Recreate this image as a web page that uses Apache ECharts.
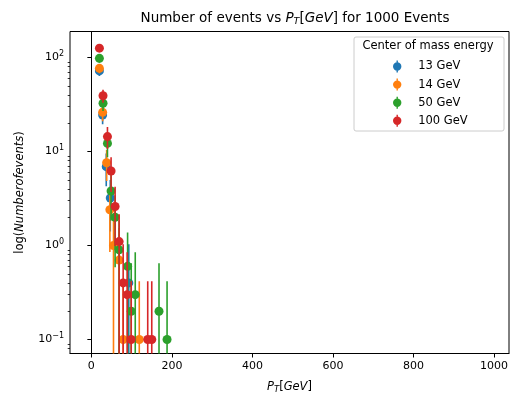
<!DOCTYPE html>
<html>
<head>
<meta charset="utf-8">
<script src="https://cdn.jsdelivr.net/npm/echarts@6/dist/echarts.min.js"></script>
<style>
  html, body { margin: 0; padding: 0; background: #fff; }
  #chart { width: 510px; height: 394px; }
</style>
</head>
<body>
<div id="chart"></div>
<script>
// Binned event counts (per 10 GeV bin) for each centre-of-mass energy
const energyLabels = ['13 GeV', '14 GeV', '50 GeV', '100 GeV'];
const colors = ['#1f77b4', '#ff7f0e', '#2ca02c', '#d62728'];

const pt13 = [20, 28, 37, 47, 93];
const n13  = [72.0, 24.4, 6.9, 3.2, 0.4];

const pt14 = [20, 28, 38, 46, 55, 69, 79, 119];
const n14  = [76.7, 26.1, 7.6, 2.4, 1.0, 0.7, 0.1, 0.1];

const pt50 = [20, 29, 40, 49, 59, 69, 90, 99, 109, 168, 188];
const n50  = [98.0, 32.6, 12.2, 3.8, 2.0, 0.9, 0.6, 0.2, 0.3, 0.2, 0.1];

const pt100 = [20, 29, 40, 49, 59, 69, 79, 89, 99, 140, 150];
const n100  = [125.6, 39.2, 14.4, 6.2, 2.6, 1.1, 0.4, 0.3, 0.1, 0.1, 0.1];

const xTicks = [0, 200, 400, 600, 800, 1000];
const yTicks = [0.1, 1, 10, 100];

const groups = [[pt13, n13], [pt14, n14], [pt50, n50], [pt100, n100]];

const Y_MIN = 0.071, Y_MAX = 189;
const yMinor = [];
[0.01, 0.1, 1, 10, 100].forEach(function (d) {
  for (let k = 2; k <= 9; k++) {
    const v = +(d * k).toPrecision(3);
    if (v > Y_MIN && v < Y_MAX) yMinor.push(v);
  }
});

const FONT = 'DejaVu Sans';
const series = [];
groups.forEach(function (g, i) {
  const pts = g[0].map(function (x, j) {
    const y = g[1][j];
    const err = Math.sqrt(y);       // Poisson-style error
    const lo = y - err > 0 ? y - err : 1e-4;
    return [x, y, lo, y + err];
  });
  series.push({
    name: energyLabels[i],
    type: 'custom',
    z: 2 + i * 2,
    clip: true,
    itemStyle: { color: colors[i] },
    data: pts,
    encode: { x: 0, y: 1 },
    renderItem: function (params, api) {
      const x = api.value(0);
      const p1 = api.coord([x, api.value(2)]);
      const p2 = api.coord([x, api.value(3)]);
      return {
        type: 'line',
        shape: { x1: p1[0], y1: p1[1], x2: p2[0], y2: p2[1] },
        style: { stroke: colors[i], lineWidth: 1.6 }
      };
    }
  });
  series.push({
    name: energyLabels[i],
    type: 'scatter',
    z: 3 + i * 2,
    symbol: 'circle',
    symbolSize: 9,
    itemStyle: { color: colors[i], opacity: 1 },
    data: pts.map(function (p) { return [p[0], p[1]]; })
  });
});

const legendIcon = 'path://M4.3,0 L5.7,0 L5.7,12 L4.3,12 Z M0.8,6 A4.2,4.2 0 1,1 9.2,6 A4.2,4.2 0 1,1 0.8,6 Z';

const chart = echarts.init(document.getElementById('chart'), null, { renderer: 'canvas' });
chart.setOption({
  animation: false,
  backgroundColor: '#fff',
  textStyle: { fontFamily: FONT },
  title: {
    text: '{n|Number of events vs }{i|P}{s|T}{n|[}{i|GeV}{n|] for 1000 Events}',
    left: 290,
    textAlign: 'center',
    top: 4,
    textStyle: {
      fontWeight: 'normal',
      rich: {
        n: { fontFamily: FONT, fontSize: 13.5, fontWeight: 'normal', color: '#000', lineHeight: 18 },
        i: { fontFamily: FONT, fontSize: 13.5, fontWeight: 'normal', fontStyle: 'italic', color: '#000', lineHeight: 18 },
        s: { fontFamily: FONT, fontSize: 9.5, fontWeight: 'normal', fontStyle: 'italic', color: '#000', lineHeight: 10, verticalAlign: 'bottom' }
      }
    }
  },
  grid: {
    left: 70, right: 1, top: 31.5, bottom: 40.5,
    outerBoundsMode: 'none',
    containLabel: false,
    show: true, borderColor: '#000', borderWidth: 1, backgroundColor: 'transparent'
  },
  legend: {
    data: energyLabels.map(function (name, i) {
      return { name: name, itemStyle: { color: colors[i] } };
    }),
    orient: 'vertical',
    left: 388,
    top: 55.5,
    z: 60,
    icon: legendIcon,
    itemWidth: 32,
    itemHeight: 12,
    itemGap: 6.1,
    textStyle: { fontFamily: FONT, fontSize: 11.5, color: '#000', lineHeight: 12 },
    selectedMode: false
  },
  graphic: [
    {
      type: 'rect',
      shape: { x: 354, y: 37, width: 150, height: 94, r: 2 },
      style: { fill: 'rgba(255,255,255,0.8)', stroke: '#cccccc', lineWidth: 1 },
      z: 50
    },
    {
      type: 'text',
      x: 428, y: 46.5,
      style: {
        text: 'Center of mass energy', fontFamily: FONT, fontSize: 11.5,
        fill: '#000', align: 'center', verticalAlign: 'middle'
      },
      z: 51
    }
  ],
  xAxis: {
    type: 'value',
    min: -53, max: 1037,
    name: '{i|P}{s|T}{n|[}{i|GeV}{n|]}',
    nameLocation: 'middle',
    nameGap: 26,
    nameTextStyle: {
      rich: {
        n: { fontFamily: FONT, fontSize: 11.5, color: '#000', lineHeight: 15 },
        i: { fontFamily: FONT, fontSize: 11.5, fontStyle: 'italic', color: '#000', lineHeight: 15 },
        s: { fontFamily: FONT, fontSize: 8.5, fontStyle: 'italic', color: '#000', lineHeight: 9, verticalAlign: 'bottom' }
      }
    },
    axisLine: { show: true, lineStyle: { color: '#000', width: 1 } },
    axisTick: { show: true, customValues: xTicks, length: 4, lineStyle: { color: '#000' } },
    axisLabel: {
      customValues: xTicks, margin: 7, fontFamily: FONT, fontSize: 11, color: '#000',
      formatter: function (v) { return String(v); }
    },
    splitLine: { show: false }
  },
  yAxis: [
    {
      type: 'log',
      logBase: 10,
      min: Y_MIN, max: Y_MAX,
      name: '{n|log(}{i|Numberofevents}{n|)}',
      nameLocation: 'middle',
      nameGap: 44,
      nameRotate: 90,
      nameTextStyle: {
        rich: {
          n: { fontFamily: FONT, fontSize: 11.5, color: '#000' },
          i: { fontFamily: FONT, fontSize: 11.5, fontStyle: 'italic', color: '#000' }
        }
      },
      axisLine: { show: true, lineStyle: { color: '#000', width: 1 } },
      axisTick: { show: true, customValues: yTicks, length: 4, lineStyle: { color: '#000' } },
      axisLabel: {
        customValues: yTicks,
        margin: 6,
        formatter: function (v) {
          const e = Math.round(Math.log10(v));
          return '{b|10}{p|' + (e < 0 ? '\u2212' + (-e) : e) + '}';
        },
        rich: {
          b: { fontFamily: FONT, fontSize: 11, color: '#000', lineHeight: 15 },
          p: { fontFamily: FONT, fontSize: 8, color: '#000', lineHeight: 9, verticalAlign: 'top' }
        }
      },
      splitLine: { show: false }
    },
    {
      type: 'log',
      logBase: 10,
      min: Y_MIN, max: Y_MAX,
      position: 'left',
      axisLine: { show: false },
      axisTick: { show: true, customValues: yMinor, length: 2.3, lineStyle: { color: '#000', width: 0.8 } },
      axisLabel: { show: false },
      splitLine: { show: false }
    }
  ],
  series: series
});
</script>
</body>
</html>
